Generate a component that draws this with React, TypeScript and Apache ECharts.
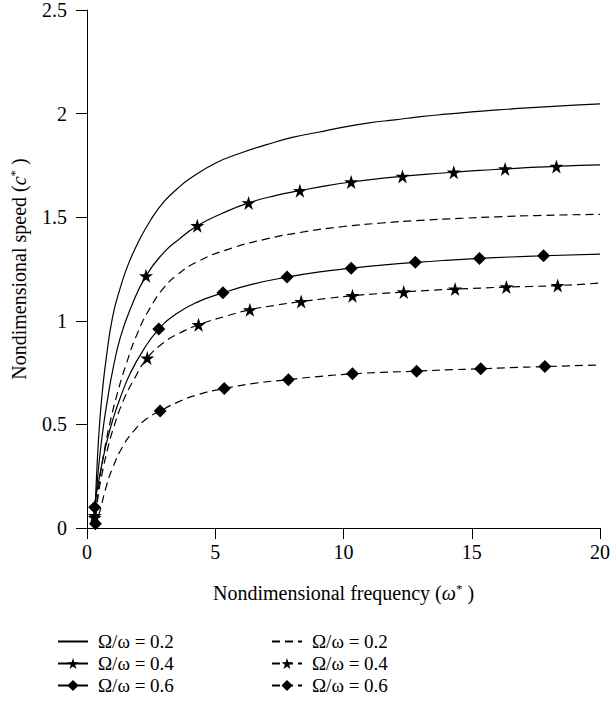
import React, { useEffect, useRef } from "react";
import * as echarts from "echarts";

// Curve samples: [frequency, speed]
const solid02: number[][] = [
  [0.28, 0], [0.3, 0.05], [0.4, 0.32], [0.5, 0.52], [0.6, 0.66], [0.75, 0.82], [1.0, 1.02],
  [1.3, 1.16], [1.6, 1.27], [2.0, 1.38], [2.5, 1.49], [3.0, 1.575], [3.5, 1.635], [4.0, 1.685],
  [5, 1.76], [6, 1.81], [7, 1.85], [8, 1.885], [9, 1.91], [10, 1.935], [11, 1.955],
  [12, 1.97], [13, 1.985], [14, 1.997], [15, 2.008], [16, 2.018], [17, 2.026], [18, 2.034],
  [19, 2.041], [20, 2.047],
];
const solid04: number[][] = [
  [0.28, 0], [0.3, 0.06], [0.4, 0.22], [0.5, 0.35], [0.65, 0.5], [0.8, 0.62], [1.0, 0.76],
  [1.3, 0.92], [1.7, 1.06], [2.3, 1.217], [3.0, 1.33], [3.6, 1.395], [4.3, 1.459], [5.3, 1.52],
  [6.3, 1.569], [7.3, 1.603], [8.3, 1.628], [9.3, 1.651], [10.3, 1.67], [11.3, 1.685],
  [12.3, 1.697], [13.3, 1.708], [14.3, 1.717], [15.3, 1.726], [16.3, 1.733], [17.3, 1.74],
  [18.3, 1.745], [19.2, 1.75], [20, 1.753],
];
const solid04MarkerX = [0.3, 2.3, 4.3, 6.3, 8.3, 10.3, 12.3, 14.3, 16.3, 18.3];
const dashed02: number[][] = [
  [0.3, 0], [0.4, 0.12], [0.5, 0.24], [0.7, 0.39], [0.9, 0.51], [1.14, 0.63], [1.5, 0.78],
  [2.0, 0.95], [2.5, 1.07], [3.0, 1.16], [3.5, 1.22], [4.3, 1.285], [5.5, 1.345], [7, 1.395],
  [8.5, 1.43], [10, 1.455], [11.5, 1.472], [13, 1.485], [14.5, 1.494], [16, 1.502],
  [17.5, 1.508], [20, 1.514],
];
const solid06: number[][] = [
  [0.28, 0], [0.3, 0.1], [0.45, 0.22], [0.6, 0.32], [0.8, 0.43], [1.0, 0.52], [1.3, 0.63],
  [1.7, 0.75], [2.2, 0.86], [2.8, 0.96], [3.5, 1.035], [4.3, 1.09], [5.3, 1.135],
  [6.5, 1.178], [7.8, 1.211], [9, 1.235], [10.3, 1.254], [11.5, 1.269], [12.8, 1.282],
  [14, 1.292], [15.3, 1.301], [16.5, 1.308], [17.8, 1.314], [20, 1.322],
];
const solid06MarkerX = [0.3, 2.8, 5.3, 7.8, 10.3, 12.8, 15.3, 17.8];
const dashed04: number[][] = [
  [0.28, 0], [0.3, 0.05], [0.45, 0.17], [0.6, 0.27], [0.8, 0.38], [1.0, 0.47], [1.4, 0.61],
  [1.8, 0.71], [2.35, 0.82], [3.0, 0.895], [3.6, 0.94], [4.35, 0.981], [5.35, 1.02],
  [6.35, 1.053], [7.35, 1.075], [8.35, 1.093], [9.35, 1.108], [10.35, 1.121], [11.35, 1.131],
  [12.35, 1.139], [13.35, 1.147], [14.35, 1.153], [15.35, 1.158], [16.35, 1.163],
  [17.35, 1.166], [18.35, 1.17], [20, 1.182],
];
const dashed04MarkerX = [0.3, 2.35, 4.35, 6.35, 8.35, 10.35, 12.35, 14.35, 16.35, 18.35];
const dashed06: number[][] = [
  [0.31, 0], [0.33, 0.02], [0.5, 0.08], [0.75, 0.2], [1.0, 0.29], [1.4, 0.395], [1.8, 0.465],
  [2.3, 0.525], [2.85, 0.565], [3.5, 0.605], [4.3, 0.643], [5.35, 0.673], [6.5, 0.698],
  [7.85, 0.716], [9, 0.731], [10.35, 0.744], [11.5, 0.751], [12.85, 0.757], [14, 0.763],
  [15.35, 0.768], [16.5, 0.774], [17.85, 0.779], [20, 0.787],
];
const dashed06MarkerX = [0.33, 2.85, 5.35, 7.85, 10.35, 12.85, 15.35, 17.85];

const ratios = ["0.2", "0.4", "0.6"];
const xTicks = { min: 0, max: 20, interval: 5 };
const yTicks = { min: 0, max: 2.5, interval: 0.5 };

const STAR =
  "path://M0,-100L22.45,-30.9L95.1,-30.9L36.33,11.8L58.8,80.9L0,38.2L-58.8,80.9L-36.33,11.8L-95.1,-30.9L-22.45,-30.9Z";
const FONT = "'Liberation Serif', 'DejaVu Serif', serif";
const FS = 20;

function withMarkers(points: number[][], markerX: number[]) {
  return points.map((p) =>
    markerX.includes(p[0]) ? { value: p } : { value: p, symbol: "none" }
  );
}

export default function App() {
  const ref = useRef<HTMLDivElement>(null);
  useEffect(() => {
    if (!ref.current) return;
    const chart = echarts.init(ref.current, undefined, { renderer: "svg" });
    const base = (name: string, dashed: boolean, data: any, symbol: string, size: number) => ({
      name,
      type: "line",
      data,
      smooth: 0.5,
      symbol,
      symbolSize: size,
      showSymbol: symbol !== "none",
      lineStyle: { color: "#000", width: 1.2, type: dashed ? [8, 5] : "solid" },
      itemStyle: { color: "#000" },
      z: 3,
    });
    const series = [
      base("s" + ratios[0], false, solid02.map((p) => ({ value: p })), "none", 0),
      base("s" + ratios[1], false, withMarkers(solid04, solid04MarkerX), STAR, 14),
      base("s" + ratios[2], false, withMarkers(solid06, solid06MarkerX), "diamond", 13),
      base("d" + ratios[0], true, dashed02.map((p) => ({ value: p })), "none", 0),
      base("d" + ratios[1], true, withMarkers(dashed04, dashed04MarkerX), STAR, 14),
      base("d" + ratios[2], true, withMarkers(dashed06, dashed06MarkerX), "diamond", 13),
    ];
    const legendCommon = {
      orient: "vertical",
      top: 632,
      height: 78,
      padding: 0,
      itemWidth: 30,
      itemHeight: 14,
      itemGap: 3,
      formatter: (n: string) => "Ω/ω = " + n.slice(1),
      textStyle: { fontFamily: FONT, fontSize: 19, color: "#000", padding: [0, 0, 0, 5] },
    };
    const legendData = (prefix: string) =>
      ratios.map((r, i) => (i === 0 ? { name: prefix + r, itemStyle: { opacity: 0 } } : { name: prefix + r }));
    chart.setOption({
      animation: false,
      backgroundColor: "#fff",
      grid: { left: 84, right: 14, top: 10, bottom: 182, containLabel: false },
      legend: [
        { ...legendCommon, left: 57, data: legendData("s") },
        { ...legendCommon, left: 271, data: legendData("d") },
      ],
      xAxis: {
        type: "value",
        ...xTicks,
        name: "{n|Nondimensional frequency (}{i|ω}{s|*}{n| )}",
        nameLocation: "middle",
        nameGap: 54,
        nameTextStyle: {
          rich: {
            n: { fontFamily: FONT, fontSize: FS, color: "#000" },
            i: { fontFamily: FONT, fontSize: FS, fontStyle: "italic", color: "#000" },
            s: { fontFamily: FONT, fontSize: 13, color: "#000", verticalAlign: "top", padding: [0, 0, 8, 0] },
          },
        },
        axisLine: { lineStyle: { color: "#000", width: 1 } },
        axisTick: { show: true, length: 11, lineStyle: { color: "#000" } },
        axisLabel: { fontFamily: FONT, fontSize: FS, color: "#000", margin: 14 },
        splitLine: { show: false },
      },
      yAxis: {
        type: "value",
        ...yTicks,
        name: "{n|Nondimensional speed (}{i|c}{s|*}{n| )}",
        nameLocation: "middle",
        nameGap: 58,
        nameTextStyle: {
          rich: {
            n: { fontFamily: FONT, fontSize: FS, color: "#000" },
            i: { fontFamily: FONT, fontSize: FS, fontStyle: "italic", color: "#000" },
            s: { fontFamily: FONT, fontSize: 13, color: "#000", verticalAlign: "top", padding: [0, 0, 8, 0] },
          },
        },
        axisLine: { show: true, lineStyle: { color: "#000", width: 1 } },
        axisTick: { show: true, length: 11, lineStyle: { color: "#000" } },
        axisLabel: { fontFamily: FONT, fontSize: FS, color: "#000", margin: 20 },
        splitLine: { show: false },
      },
      series,
    });
    return () => chart.dispose();
  }, []);
  return (
    <div
      ref={ref}
      style={{ position: "absolute", left: 0, top: 0, width: 614, height: 710, background: "#fff" }}
    />
  );
}
